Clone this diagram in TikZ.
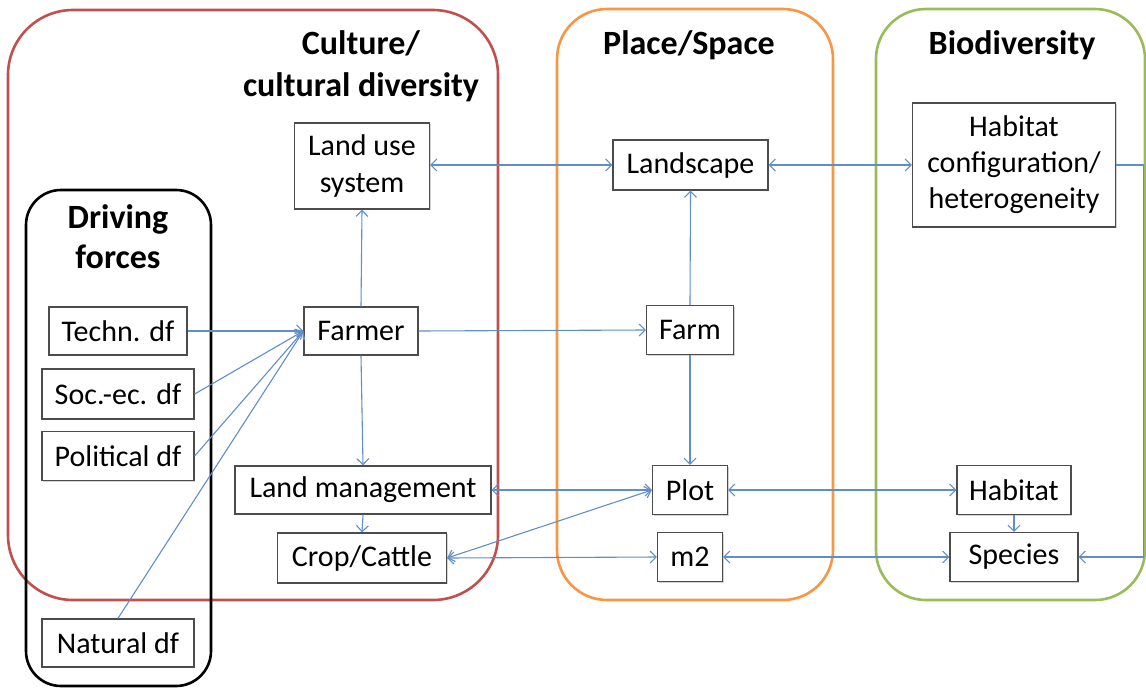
\documentclass[tikz,border=0pt]{standalone}
\usepackage{fontspec}
\setmainfont{Carlito}
\usetikzlibrary{arrows.meta,shadows}
\definecolor{cred}{RGB}{192,80,77}
\definecolor{corange}{RGB}{247,150,70}
\definecolor{cgreen}{RGB}{155,187,89}
\definecolor{cblue}{RGB}{96,142,200}
\begin{document}
\begin{tikzpicture}[x=1pt,y=-1pt,
  box/.style={draw=black!70,line width=1.3pt,fill=white,inner sep=0pt,align=center,
    font=\fontsize{30}{36}\selectfont,
    drop shadow={opacity=0.35,shadow xshift=1.3pt,shadow yshift=-1.3pt}},
  ttl/.style={font=\fontsize{34}{42}\selectfont\bfseries,align=center,inner sep=0pt},
  cont/.style={line width=2.6pt},
  con/.style={draw=cblue,line width=1.1pt},
  ar/.style={con,-{Straight Barb[length=6pt,width=12pt]}},
  dar/.style={con,{Straight Barb[length=6pt,width=12pt]}-{Straight Barb[length=6pt,width=12pt]}}]
\useasboundingbox (0,0) rectangle (1146,688);
% containers
\draw[cont,draw=cred,rounded corners=65pt] (8,10) rectangle (498,600);
\draw[cont,draw=corange,rounded corners=50pt] (557,9) rectangle (833,600);
\draw[cont,draw=cgreen,rounded corners=50pt] (876,9) rectangle (1145,600);
\draw[cont,draw=black,rounded corners=35pt] (26,190) rectangle (211,686);
% titles
\node[ttl] (tcult) at (361,66) {Culture/\\cultural diversity};
\node[ttl] (tplace) at (689,45) {Place/Space};
\node[ttl] (tbio) at (1012,45) {Biodiversity};
\node[ttl,font=\fontsize{34}{40}\selectfont\bfseries] (tdf) at (118,237) {Driving\\forces};
% nodes
\node[box,minimum width=135pt,minimum height=86pt] (landuse) at (362,166) {Land use\\system};
\node[box,minimum width=155pt,minimum height=50pt] (landscape) at (690.5,165) {Landscape};
\node[box,minimum width=203pt,minimum height=124pt] (habconf) at (1014,165) {Habitat\\configuration/\\heterogeneity};
\node[box,minimum width=138pt,minimum height=48pt] (techn) at (118,331) {Techn. df};
\node[box,minimum width=152pt,minimum height=50pt] (socec) at (118,394) {Soc.-ec. df};
\node[box,minimum width=152pt,minimum height=49pt] (polit) at (118,456) {Political df};
\node[box,minimum width=152pt,minimum height=48pt] (natural) at (118,643) {Natural df};
\node[box,minimum width=114pt,minimum height=48pt] (farmer) at (361,331) {Farmer};
\node[box,minimum width=87pt,minimum height=49pt] (farm) at (690,330) {Farm};
\node[box,minimum width=256pt,minimum height=48pt] (landmgmt) at (363,490) {Land management};
\node[box,minimum width=75pt,minimum height=49pt] (plot) at (690,490) {Plot};
\node[box,minimum width=114pt,minimum height=49pt] (habitat) at (1014,490) {Habitat};
\node[box,minimum width=169pt,minimum height=50pt] (crop) at (362,558) {Crop/Cattle};
\node[box,minimum width=65pt,minimum height=49pt] (m2) at (690,557) {m2};
\node[box,minimum width=128pt,minimum height=49pt] (species) at (1014,557) {Species};
% connectors
\draw[dar] (landuse.east |- landscape.west) -- (landscape.west);
\draw[dar] (landscape.east) -- (habconf.west);
\draw[ar] (habconf.east) -- ++(27,0) |- (species.east);
\draw[ar] (techn.east) -- (farmer.west);
\draw[ar] (socec.east) -- (farmer.west);
\draw[ar] (polit.east) -- (farmer.west);
\draw[ar] (natural.north) -- (farmer.west);
\draw[ar] (farmer.north) -- (landuse.south);
\draw[ar] (farmer.east) -- (farm.west);
\draw[ar] (farmer.south) -- (landmgmt.north);
\draw[ar] (farm.north) -- (landscape.south);
\draw[ar] (farm.south) -- (plot.north);
\draw[dar] (landmgmt.east) -- (plot.west);
\draw[dar] (plot.east) -- (habitat.west);
\draw[ar] (landmgmt.south) -- (crop.north);
\draw[ar] (habitat.south) -- (species.north);
\draw[dar] (crop.east) -- (plot.west);
\draw[dar] (crop.east) -- (m2.west);
\draw[dar] (m2.east) -- (species.west);
\end{tikzpicture}
\end{document}
